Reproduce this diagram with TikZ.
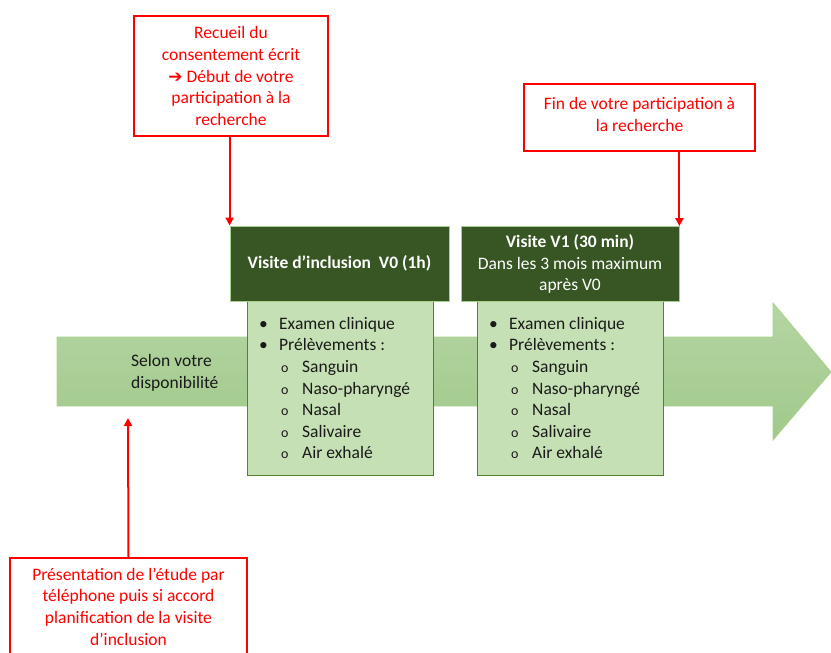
\documentclass[tikz,border=0pt]{standalone}
\usepackage{fontspec}
\setmainfont{Carlito}
\usetikzlibrary{arrows.meta}

\definecolor{redline}{HTML}{FF0000}
\definecolor{headgreen}{HTML}{375623}
\definecolor{headedge}{HTML}{A9D18E}
\definecolor{listgreen}{HTML}{C5E0B4}
\definecolor{listedge}{HTML}{548235}
\definecolor{arrowtop}{HTML}{B5D5A3}
\definecolor{arrowbot}{HTML}{A0C98A}
\definecolor{listtext}{HTML}{1A1A1A}

\newcommand{\itm}[1]{\makebox[21pt][l]{\hspace{1pt}\textbullet}#1}
\newcommand{\subitm}[1]{\hspace{23pt}\makebox[21pt][l]{\fontsize{14}{14}\selectfont o}#1}

\tikzset{
    note/.style={draw=redline, line width=2pt, text=redline, align=center, inner sep=0pt},
    head/.style={draw=headedge, line width=0.8pt, fill=headgreen, text=white, align=center, inner sep=0pt, minimum height=75pt},
    listbox/.style={draw=listedge, line width=0.8pt, fill=listgreen, minimum width=186pt, minimum height=174pt, inner sep=0pt},
    items/.style={text=listtext, align=left, anchor=north west, inner sep=0pt},
    link/.style={draw=redline, line width=2pt, -{Triangle[width=8pt,length=8pt]}}
}

\begin{document}
\begin{tikzpicture}[x=1pt, y=-1pt, font=\fontsize{17.5}{21.6}\selectfont]
            \useasboundingbox (0,0) rectangle (831,653);

            \shade[top color=arrowtop, bottom color=arrowbot, draw=headedge, line width=0.8pt]
                (57,337) -- (773,337) -- (773,303) -- (831,372) -- (773,440) -- (773,406) -- (57,406) -- cycle;
            \node[align=left, anchor=west, inner sep=0pt, text=listtext] (wait) at (131,373) {Selon votre\\disponibilité};
            \coordinate (below) at (128,418);

            \node[listbox] (list0) at (340.5,388) {};
            \node[listbox] (list1) at (570,388) {};
            \node[head, minimum width=219pt] (v0) at (339.5,263.5) {\textbf{Visite d’inclusion\ \ V0 (1h)}};
            \node[head, minimum width=218pt] (v1) at (570,264) {\textbf{Visite V1 (30 min)}\\Dans les 3 mois maximum\\après V0};

            \node[items] (items0) at (258,317) {\itm{Examen clinique}\\\itm{Prélèvements :}\\\subitm{Sanguin}\\\subitm{Naso-pharyngé}\\\subitm{Nasal}\\\subitm{Salivaire}\\\subitm{Air exhalé}};
            \node[items] (items1) at (488,317) {\itm{Examen clinique}\\\itm{Prélèvements :}\\\subitm{Sanguin}\\\subitm{Naso-pharyngé}\\\subitm{Nasal}\\\subitm{Salivaire}\\\subitm{Air exhalé}};

            \node[note, minimum width=194pt, minimum height=120pt] (consent) at (231,76)
                {Recueil du\\consentement écrit\\{\fontspec{DejaVu Sans}\bfseries\fontsize{17}{17}\selectfont ➔}\ Début de votre\\participation à la\\recherche};
            \node[note, minimum width=231pt, minimum height=67pt] (fin) at (639.5,117.5)
                {Fin de votre participation à\\la recherche\\[-15pt]};
            \node[note, minimum width=237pt, anchor=north, inner ysep=10pt] (call) at (128.5,557)
                {Présentation de l’étude par\\téléphone puis si accord\\planification de la visite\\d’inclusion};

            \draw[link] (consent.south -| v0.north west) -- (v0.north west);
            \draw[link] (fin.south -| v1.north east) -- (v1.north east);
            \draw[link] (call.north) -- (below);
        \end{tikzpicture}
\end{document}
